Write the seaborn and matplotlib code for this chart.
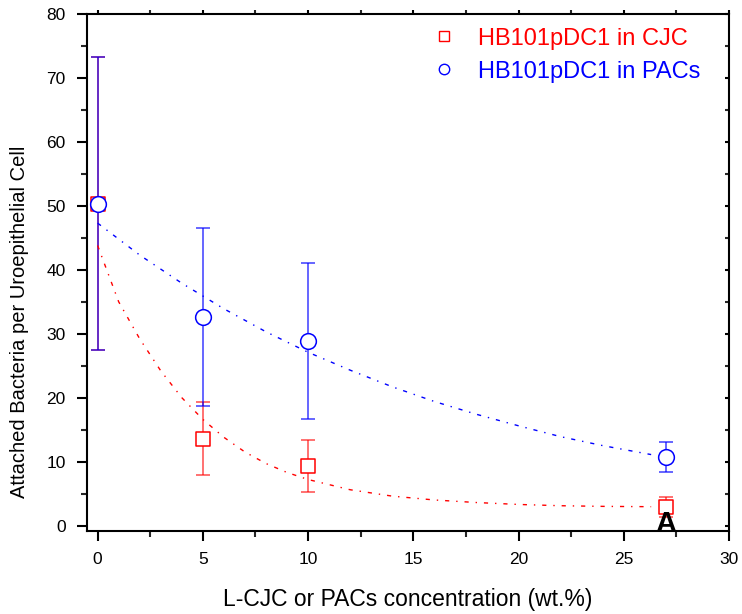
import matplotlib
matplotlib.use("Agg")
import matplotlib.pyplot as plt
from matplotlib.lines import Line2D
import seaborn as sns
import pandas as pd

# ---- data ----
conc = [0, 5, 10, 27]
cjc_mean = [50.3, 13.6, 9.3, 2.9]
cjc_err = [22.9, 5.7, 4.1, 1.5]
pacs_mean = [50.3, 32.6, 28.9, 10.7]
pacs_err = [22.9, 13.9, 12.2, 2.4]

cjc_fit_x = [0, 1, 2, 3, 4, 5, 6, 7, 8, 9, 10, 12, 14, 16, 18, 20, 22, 24, 26.3]
cjc_fit_y = [43.8, 35.0, 29.2, 24.2, 20.0, 16.6, 13.8, 11.5, 9.7, 8.3, 7.2,
             5.6, 4.6, 4.0, 3.6, 3.3, 3.1, 3.0, 2.95]
pacs_fit_x = [0, 2, 4, 6, 8, 10, 12, 14, 16, 18, 20, 22, 24, 26.3]
pacs_fit_y = [47.3, 42.3, 37.9, 33.9, 30.3, 27.1, 24.3, 21.7, 19.4, 17.4,
              15.6, 13.9, 12.5, 11.1]

labels = ["HB101pDC1 in CJC", "HB101pDC1 in PACs"]
xticks = [0, 5, 10, 15, 20, 25, 30]
yticks = [0, 10, 20, 30, 40, 50, 60, 70, 80]

sns.set_style("ticks")
plt.rcParams["font.family"] = ["Liberation Sans", "DejaVu Sans"]

fig = plt.figure(figsize=(7.42, 6.14), dpi=100)
ax = fig.add_axes([0.1168, 0.1352, 0.8657, 0.8420])

red = "#ff0000"
blue = "#0000ff"
dash = (0, (3, 5, 1, 5))

df_cjc = pd.DataFrame({"x": conc, "y": cjc_mean})
df_pacs = pd.DataFrame({"x": conc, "y": pacs_mean})
fit_cjc = pd.DataFrame({"x": cjc_fit_x, "y": cjc_fit_y})
fit_pacs = pd.DataFrame({"x": pacs_fit_x, "y": pacs_fit_y})

# error bars and points
ax.errorbar(conc, cjc_mean, yerr=cjc_err, fmt="none", ecolor=red, alpha=0.65,
            elinewidth=1.2, capsize=5, capthick=1.2, zorder=2)
sns.scatterplot(data=df_cjc, x="x", y="y", marker="s", s=100, facecolor="white",
                edgecolor=red, linewidth=1.1, ax=ax, zorder=3, legend=False)
ax.errorbar(conc, pacs_mean, yerr=pacs_err, fmt="none", ecolor=blue, alpha=0.7,
            elinewidth=1.2, capsize=5, capthick=1.2, zorder=4)
sns.scatterplot(data=df_pacs, x="x", y="y", marker="o", s=128, facecolor="white",
                edgecolor=blue, linewidth=1.1, ax=ax, zorder=5, legend=False)

# fitted curves
sns.lineplot(data=fit_cjc, x="x", y="y", color=red, lw=1.0, ax=ax, zorder=6,
             linestyle=dash, legend=False)
sns.lineplot(data=fit_pacs, x="x", y="y", color=blue, lw=1.0, ax=ax, zorder=6,
             linestyle=dash, legend=False)

ax.set_xlim(-0.52, 30)
ax.set_ylim(-0.85, 80)
ax.set_xticks(xticks)
ax.set_yticks(yticks)
ax.set_xticks([2.5, 7.5, 12.5, 17.5, 22.5, 27.5], minor=True)
ax.set_yticks([5, 15, 25, 35, 45, 55, 65, 75], minor=True)

for sp in ax.spines.values():
    sp.set_visible(True)
    sp.set_linewidth(1.5)
    sp.set_color("black")

ax.tick_params(axis="both", which="major", direction="out", length=7, width=1.5,
               labelsize=12.5, colors="black", pad=8)
ax.tick_params(axis="both", which="minor", direction="out", length=4, width=1.5)
ax.tick_params(axis="x", which="both", top=True, labeltop=False)
ax.tick_params(axis="y", which="both", right=True, labelright=False)
# top/right ticks small and inward
for tick in ax.xaxis.get_major_ticks() + ax.xaxis.get_minor_ticks():
    tick.tick2line.set_markersize(3)
    tick.tick2line.set_marker(2)
for tick in ax.yaxis.get_major_ticks() + ax.yaxis.get_minor_ticks():
    tick.tick2line.set_markersize(3)
    tick.tick2line.set_marker(0)

ax.set_xlabel("L-CJC or PACs concentration (wt.%)", fontsize=16.5, labelpad=15,
              color="black")
ax.set_ylabel("Attached Bacteria per Uroepithelial Cell", fontsize=14.5,
              color="black")
ax.yaxis.set_label_coords(-0.09, 0.404)

ax.text(27, 0.2, "A", ha="center", va="center", fontsize=21, fontweight="bold",
        color="black", zorder=10)

handles = [
    Line2D([], [], marker="s", linestyle="none", markersize=7, markerfacecolor="white",
           markeredgecolor=red, markeredgewidth=1.0),
    Line2D([], [], marker="o", linestyle="none", markersize=7.5, markerfacecolor="white",
           markeredgecolor=blue, markeredgewidth=1.0),
]
leg = ax.legend(handles, labels, loc="upper left", bbox_to_anchor=(0.582, 0.955),
                bbox_transform=fig.transFigure, frameon=False, fontsize=17,
                handlelength=1.0, handletextpad=0.95, labelspacing=0.47, borderpad=0,
                borderaxespad=0)
for txt, c in zip(leg.get_texts(), [red, blue]):
    txt.set_color(c)

fig.savefig("out.png", dpi=100)
